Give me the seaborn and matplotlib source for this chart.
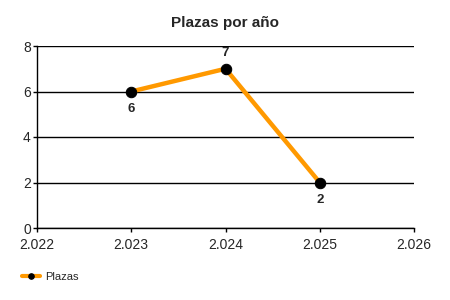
import matplotlib
matplotlib.use("Agg")
import matplotlib.pyplot as plt
import seaborn as sns
import pandas as pd
from matplotlib.ticker import FuncFormatter, MultipleLocator

years = [2023, 2024, 2025]
plazas = [6, 7, 2]
series_name = "Plazas"
title = "Plazas por año"

sns.set_style("white")
plt.rcParams['font.family'] = ['Liberation Sans', 'DejaVu Sans']

df = pd.DataFrame({"year": years, "value": plazas})

fig = plt.figure(figsize=(4.5, 3), dpi=100)
ax = fig.add_axes([37/450, 1-228/300, (414-37)/450, (228-46)/300])

sns.lineplot(data=df, x="year", y="value", ax=ax, color="#FF9900", linewidth=3.2,
             marker="o", markersize=7.5, markerfacecolor="black", markeredgecolor="black",
             label=series_name, zorder=3)

for x, y in zip(years, plazas):
    if y == max(plazas):
        ax.annotate(str(y), (x, y), xytext=(0, 7), textcoords="offset points",
                    ha="center", va="bottom", fontsize=9.5, fontweight="bold")
    else:
        ax.annotate(str(y), (x, y), xytext=(0, -8.5), textcoords="offset points",
                    ha="center", va="top", fontsize=9.5, fontweight="bold")

ax.set_xlim(2022, 2026)
ax.set_ylim(0, 8)
ax.xaxis.set_major_locator(MultipleLocator(1))
ax.yaxis.set_major_locator(MultipleLocator(2))
ax.xaxis.set_major_formatter(FuncFormatter(lambda v, p: f"{v:,.0f}".replace(",", ".")))
ax.yaxis.grid(True, color="black", linewidth=1)
ax.xaxis.grid(False)
ax.set_axisbelow(True)
for s in ["top", "right"]:
    ax.spines[s].set_visible(False)
for s in ["left", "bottom"]:
    ax.spines[s].set_color("black")
    ax.spines[s].set_linewidth(1)
ax.tick_params(axis="both", which="major", length=3, width=1, color="black",
               labelsize=10, bottom=True, left=True)
ax.tick_params(axis="x", pad=4.5)
ax.tick_params(axis="y", pad=1.5)
ax.set_xlabel("")
ax.set_ylabel("")
ax.set_title(title, fontsize=11, fontweight="bold", pad=14)

leg = ax.legend(loc="center left", bbox_to_anchor=(18/450, 1-277/300),
                bbox_transform=fig.transFigure, frameon=False,
                fontsize=8, handlelength=1.6, handletextpad=0.4, borderaxespad=0)
for h in leg.legend_handles:
    h.set_markersize(4)
    h.set_linewidth(3)

fig.savefig("out.png", dpi=100)
